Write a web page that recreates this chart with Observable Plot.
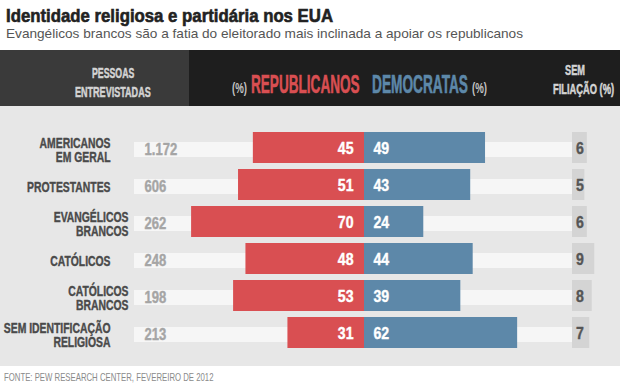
<!DOCTYPE html>
<html><head><meta charset="utf-8">
<script src="https://cdn.jsdelivr.net/npm/d3@7"></script>
<script src="https://cdn.jsdelivr.net/npm/@observablehq/plot@0.6"></script>
<style>
body{margin:0;background:#fff;}
#page{position:relative;width:620px;height:391px;overflow:hidden;background:#fff;}
#header{position:absolute;left:0;top:50px;width:620px;height:56px;background:#1e1e1e;}
#headerLeft{position:absolute;left:0;top:0;width:189px;height:56px;background:#3a3a3a;}
#chart{position:absolute;left:0;top:106px;width:620px;height:260px;}
.t{position:absolute;white-space:nowrap;transform-origin:0 0;margin:0;padding:0;}
</style></head>
<body><div id="page"><div id="header"><div id="headerLeft"></div></div><div id="chart"></div></div>
<script>
// ---- data ----
const categories = ["AMERICANOS\nEM GERAL", "PROTESTANTES", "EVANGÉLICOS\nBRANCOS", "CATÓLICOS", "CATÓLICOS\nBRANCOS", "SEM IDENTIFICAÇÃO\nRELIGIOSA"];
const subgroup = [false, false, true, false, true, false];
const respondents = ["1.172", "606", "262", "248", "198", "213"];
const republicans = [45, 51, 70, 48, 53, 31];
const democrats = [49, 43, 24, 44, 39, 62];
const unaffiliated = [6, 5, 6, 9, 8, 7];
const connectors = [
  {parent: "PROTESTANTES", child: "EVANGÉLICOS\nBRANCOS"},
  {parent: "CATÓLICOS", child: "CATÓLICOS\nBRANCOS"}
];
const title = "Identidade religiosa e partidária nos EUA";
const subtitle = "Evangélicos brancos são a fatia do eleitorado mais inclinada a apoiar os republicanos";
const source = "FONTE: PEW RESEARCH CENTER, FEVEREIRO DE 2012";

// ---- layout ----
const SANS = "'Liberation Sans',Arial,Helvetica,sans-serif";
const RED = "#d94f52", BLUE = "#5d88a9";
const page = document.getElementById("page");
const ctx = document.createElement("canvas").getContext("2d");
function natural(str, size, weight) { ctx.font = `${weight} ${size}px ${SANS}`; return ctx.measureText(str).width; }

function place(str, o) {
  const el = document.createElement("div");
  el.className = "t";
  el.textContent = str;
  Object.assign(el.style, {
    fontFamily: SANS, fontSize: o.size + "px",
    fontWeight: o.weight || "bold", color: o.color, lineHeight: o.size + "px"
  });
  if (o.heavy) el.style.webkitTextStroke = o.heavy + "px " + o.color;
  page.appendChild(el);
  const w = el.getBoundingClientRect().width;
  const k = o.width / w;
  const left = o.anchor === "middle" ? o.x - o.width / 2 : o.anchor === "end" ? o.x - o.width : o.x;
  el.style.left = left + "px";
  el.style.top = (o.baseline - 0.8465 * o.size) + "px";
  el.style.transform = `scaleX(${k})`;
}

place(title, {x: 6, baseline: 22.7, size: 18.5, width: 327, color: "#222", heavy: 0.6});
place(subtitle, {x: 6, baseline: 39, size: 12.8, weight: "normal", width: 517, color: "#555"});
place("PESSOAS", {x: 113, anchor: "middle", baseline: 77.7, size: 14, width: 42.3, color: "#d4d4d4", heavy: 0.5});
place("ENTREVISTADAS", {x: 113, anchor: "middle", baseline: 96.7, size: 14, width: 75.7, color: "#d4d4d4", heavy: 0.5});
place("(%)", {x: 231.7, baseline: 93, size: 14, width: 15, color: "#c4c4c4"});
place("REPUBLICANOS", {x: 250.7, baseline: 93.3, size: 26, width: 108.6, color: RED, heavy: 0.6});
place("DEMOCRATAS", {x: 371.7, baseline: 93.3, size: 26, width: 96, color: BLUE, heavy: 0.6});
place("(%)", {x: 471.7, baseline: 93, size: 14, width: 15, color: "#c4c4c4"});
place("SEM", {x: 575, anchor: "middle", baseline: 75, size: 14, width: 20, color: "#d4d4d4", heavy: 0.5});
place("FILIAÇÃO (%)", {x: 553, baseline: 94.3, size: 14, width: 61, color: "#d4d4d4", heavy: 0.5});
place(source, {x: 3.5, baseline: 381.7, size: 11, weight: "normal", width: 209.5, color: "#8a8a8a"});

// ---- chart ----
const rows = categories.map((c, i) => ({
  category: c, sub: subgroup[i], n: respondents[i],
  rep: republicans[i], dem: democrats[i], none: unaffiliated[i]
}));
const PX = 2.47, CX = 364;           // pixels per percentage point, zero line
const u = px => (px - CX) / PX;      // pixel column -> scale units
const semStart = u(572);

// horizontal condensing factors (the original uses a condensed gothic face)
const condense = {
  labels: 71 / natural("AMERICANOS", 14, "bold"),
  n: 32.7 / natural("1.172", 16, "bold"),
  values: 15.7 / natural("45", 17, "bold")
};

const chart = Plot.plot({
  width: 620, height: 260,
  marginTop: 0, marginRight: 0, marginBottom: 0, marginLeft: 0,
  style: {background: "#e7e7e7", fontFamily: SANS, overflow: "visible"},
  x: {domain: [0, 100], range: [CX, CX + 100 * PX], axis: null},
  y: {domain: categories, range: [24, 245], paddingInner: 0.153, paddingOuter: 0, axis: null},
  marks: [
    Plot.barX(rows, {y: "category", x1: u(134), x2: semStart, fill: "#f6f6f6", insetTop: 10, insetBottom: 6}),
    Plot.barX(rows, {y: "category", x1: d => -d.rep, x2: 0, fill: RED}),
    Plot.barX(rows, {y: "category", x1: 0, x2: "dem", fill: BLUE}),
    Plot.barX(rows, {y: "category", x1: semStart, x2: d => semStart + d.none, fill: "#d4d4d4"}),
    (index, scales) => {
      const y = scales.y;
      const bw = y.bandwidth || (y(categories[1]) - y(categories[0])) * (1 - 0.153);
      const g = d3.create("svg:g").attr("fill", "none").attr("stroke", "#a8a8a8").attr("stroke-width", 1);
      const xs = [[35.5, 44], [55.5, 62]];
      connectors.forEach((c, i) => {
        const y0 = y(c.parent) + bw / 2 + 10;
        const y1 = Math.round(y(c.child) + bw / 2 - 4) + 0.5;
        g.append("path").attr("d", `M${xs[i][0]},${y0}V${y1}H${xs[i][1]}`);
      });
      return g.node();
    },
    Plot.text(rows, {y: "category", x: d => d.sub ? u(128) : u(110), text: "category", textAnchor: "end",
      fontSize: 14, fontWeight: "bold", fill: "#4a4a4a", stroke: "#4a4a4a", strokeWidth: 0.4,
      lineHeight: 1.02, dy: 2.5, ariaDescription: "labels"}),
    Plot.text(rows, {y: "category", x: u(144), text: "n", textAnchor: "start",
      fontSize: 16, fontWeight: "bold", fill: "#a5a5a5", stroke: "#a5a5a5", strokeWidth: 0.4, dy: 2, ariaDescription: "n"}),
    Plot.text(rows, {y: "category", x: 0, text: "rep", textAnchor: "end", dx: -11, dy: 1,
      fontSize: 17, fontWeight: "bold", fill: "white", stroke: "white", strokeWidth: 0.4, ariaDescription: "values"}),
    Plot.text(rows, {y: "category", x: 0, text: "dem", textAnchor: "start", dx: 9, dy: 1,
      fontSize: 17, fontWeight: "bold", fill: "white", stroke: "white", strokeWidth: 0.4, ariaDescription: "values"}),
    Plot.text(rows, {y: "category", x: u(575.5), text: "none", textAnchor: "start", dy: 1,
      fontSize: 17, fontWeight: "bold", fill: "#555", stroke: "#555", strokeWidth: 0.4, ariaDescription: "values"})
  ]
});

for (const [name, k] of Object.entries(condense)) {
  d3.select(chart).selectAll(`g[aria-description="${name}"] text`).each(function () {
    const t = this.getAttribute("transform");
    if (t) this.setAttribute("transform", t + ` scale(${k},1)`);
    else {
      const x = +this.getAttribute("x") || 0, yy = +this.getAttribute("y") || 0;
      this.removeAttribute("x"); this.removeAttribute("y");
      this.setAttribute("transform", `translate(${x},${yy}) scale(${k},1)`);
    }
  });
}
document.getElementById("chart").appendChild(chart);
</script></body></html>
